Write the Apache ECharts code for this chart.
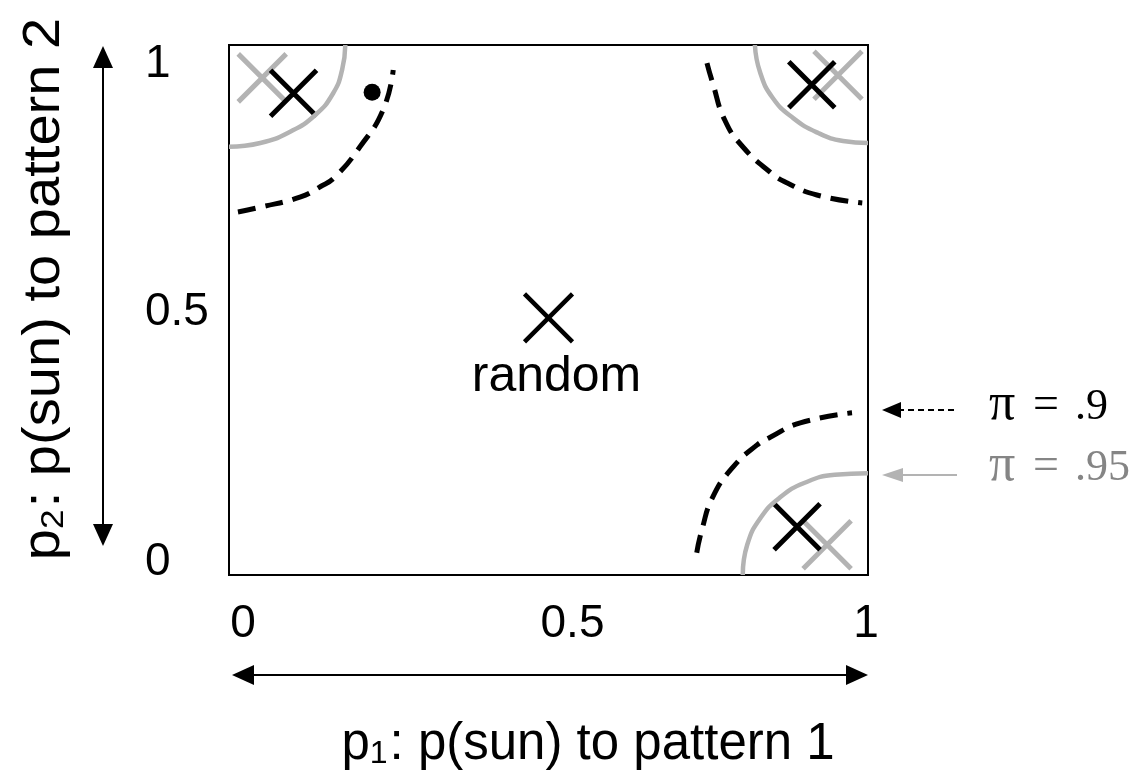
<!DOCTYPE html>
<html>
<head>
<meta charset="UTF-8">
<title>p1 / p2 sun probability space</title>
<style>
  html, body { margin: 0; padding: 0; background: #fff; }
  #chart { width: 1144px; height: 770px; }
</style>
<script src="https://cdn.jsdelivr.net/npm/echarts@6/dist/echarts.min.js"></script>
</head>
<body>
<div id="chart"></div>
<script>
// tick labels
var xTickLabels = ['0', '0.5', '1'];
var yTickLabels = ['0', '0.5', '1'];

// solid grey arcs (pi = .95)
var arcTopLeft = [[0, 0.808], [0.049, 0.815], [0.095, 0.836], [0.135, 0.868], [0.163, 0.909], [0.177, 0.953], [0.182, 1.0]];
var arcTopRight = [[0.823, 1.0], [0.831, 0.949], [0.851, 0.900], [0.883, 0.862], [0.922, 0.834], [0.961, 0.819], [1.0, 0.815]];
var arcBottomRight = [[0.804, 0], [0.811, 0.057], [0.832, 0.108], [0.863, 0.147], [0.901, 0.174], [0.948, 0.189], [1.0, 0.192]];

// dashed black curves (pi = .9)
var dashTopLeft = [[0.014, 0.685], [0.049, 0.694], [0.111, 0.713], [0.142, 0.732], [0.166, 0.751], [0.205, 0.808], [0.241, 0.877], [0.257, 0.953]];
var dashTopRight = [[0.748, 0.966], [0.757, 0.928], [0.776, 0.858], [0.804, 0.808], [0.847, 0.760], [0.873, 0.740], [0.920, 0.717], [0.991, 0.702]];
var dashBottomRight = [[0.732, 0.042], [0.740, 0.085], [0.757, 0.147], [0.789, 0.204], [0.826, 0.245], [0.847, 0.260], [0.894, 0.287], [0.975, 0.306]];

// markers
var blackCrosses = [[0.101, 0.909], [0.912, 0.925], [0.889, 0.091]];
var greyCrosses = [[0.052, 0.938], [0.953, 0.943], [0.936, 0.057]];
var randomPoint = [[0.500, 0.485]];
var dotPoint = [[0.224, 0.911]];

var crossPath = 'path://M0,0L10,10M10,0L0,10';
var font = 'Liberation Sans';
var serif = 'Liberation Serif';

var myChart = echarts.init(document.getElementById('chart'));

function arcSeries(d) {
  return {
    type: 'line', data: d, smooth: true, symbol: 'none', silent: true,
    lineStyle: { color: '#b3b3b3', width: 4.5 }
  };
}
function dashSeries(d) {
  return {
    type: 'line', data: d, smooth: true, symbol: 'none', silent: true,
    lineStyle: { color: '#000', width: 5, type: [18, 10] }
  };
}
function tickRich(pads) {
  var r = {};
  pads.forEach(function (p, i) { r['t' + i] = { fontSize: 46, fontFamily: font, color: '#000', padding: p }; });
  return r;
}

var option = {
  animation: false,
  backgroundColor: '#fff',
  grid: {
    left: 229, top: 45, width: 639, height: 530,
    show: true, borderColor: '#000', borderWidth: 2, backgroundColor: 'transparent'
  },
  xAxis: {
    type: 'value', min: 0, max: 1, interval: 0.5,
    axisLine: { show: false }, axisTick: { show: false }, splitLine: { show: false },
    axisLabel: {
      margin: 26, color: '#000', fontFamily: font, fontSize: 46,
      formatter: function (v, i) { return '{t' + i + '|' + xTickLabels[i] + '}'; },
      rich: tickRich([[0, 0, 0, 28], [0, 0, 0, 48], [0, 4, 0, 0]])
    }
  },
  yAxis: {
    type: 'value', min: 0, max: 1, interval: 0.5,
    axisLine: { show: false }, axisTick: { show: false }, splitLine: { show: false },
    axisLabel: {
      margin: 84, align: 'left', color: '#000', fontFamily: font, fontSize: 46,
      formatter: function (v, i) { return '{t' + i + '|' + yTickLabels[i] + '}'; },
      rich: tickRich([[0, 0, 26, 0], [4, 0, 0, 0], [38, 0, 0, 0]])
    }
  },
  series: [
    arcSeries(arcTopLeft),
    arcSeries(arcTopRight),
    arcSeries(arcBottomRight),
    dashSeries(dashTopLeft),
    dashSeries(dashTopRight),
    dashSeries(dashBottomRight),
    {
      type: 'scatter', data: greyCrosses, symbol: crossPath, symbolSize: 48,
      itemStyle: { color: '#b3b3b3', borderColor: '#b3b3b3', borderWidth: 5, opacity: 1 }
    },
    {
      type: 'scatter', data: blackCrosses, symbol: crossPath, symbolSize: 46,
      itemStyle: { color: '#000', borderColor: '#000', borderWidth: 5, opacity: 1 }
    },
    {
      type: 'scatter', data: randomPoint, symbol: crossPath, symbolSize: 48,
      itemStyle: { color: '#000', borderColor: '#000', borderWidth: 4.5, opacity: 1 },
      label: {
        show: true, position: 'bottom', distance: 8, offset: [8, 0],
        formatter: 'random', color: '#000', fontFamily: font, fontSize: 50
      }
    },
    {
      type: 'scatter', data: dotPoint, symbol: 'circle', symbolSize: 17,
      itemStyle: { color: '#000', opacity: 1 }
    }
  ],
  graphic: [
    // y title
    {
      type: 'text', x: 45, y: 289, rotation: Math.PI / 2, scaleX: 1.1,
      style: {
        text: '{m|p}{s|2}{m|: p(sun) to pattern 2}',
        align: 'center', verticalAlign: 'middle', fill: '#000',
        rich: {
          m: { fontSize: 51, fontFamily: font, fill: '#000' },
          s: { fontSize: 32, fontFamily: font, fill: '#000', verticalAlign: 'bottom', padding: [0, 2, 0, 0] }
        }
      }
    },
    // x title
    {
      type: 'text', x: 588, y: 745,
      style: {
        text: '{m|p}{s|1}{m|: p(sun) to pattern 1}',
        align: 'center', verticalAlign: 'middle', fill: '#000',
        rich: {
          m: { fontSize: 51, fontFamily: font, fill: '#000' },
          s: { fontSize: 32, fontFamily: font, fill: '#000', verticalAlign: 'bottom', padding: [0, 2, 0, 0] }
        }
      }
    },
    // vertical double arrow
    { type: 'line', shape: { x1: 103, y1: 62, x2: 103, y2: 530 }, style: { stroke: '#000', lineWidth: 2 } },
    { type: 'polygon', shape: { points: [[103, 46], [93, 68], [113, 68]] }, style: { fill: '#000' } },
    { type: 'polygon', shape: { points: [[103, 546], [93, 524], [113, 524]] }, style: { fill: '#000' } },
    // horizontal double arrow
    { type: 'line', shape: { x1: 248, y1: 675, x2: 852, y2: 675 }, style: { stroke: '#000', lineWidth: 2 } },
    { type: 'polygon', shape: { points: [[232, 675], [254, 665], [254, 685]] }, style: { fill: '#000' } },
    { type: 'polygon', shape: { points: [[868, 675], [846, 665], [846, 685]] }, style: { fill: '#000' } },
    // pi = .9 key
    { type: 'line', shape: { x1: 898, y1: 410, x2: 955, y2: 410 }, style: { stroke: '#000', lineWidth: 2, lineDash: [6, 4] } },
    { type: 'polygon', shape: { points: [[882, 410], [901, 402], [901, 418]] }, style: { fill: '#000' } },
    { type: 'text', x: 989, y: 405, style: { text: 'π', fontSize: 52, fontFamily: serif, fill: '#000', align: 'left', verticalAlign: 'middle' } },
    { type: 'text', x: 1033, y: 406, style: { text: '=', fontSize: 46, fontFamily: serif, fill: '#000', align: 'left', verticalAlign: 'middle' } },
    { type: 'text', x: 1075, y: 407, style: { text: '.9', fontSize: 44, fontFamily: serif, fill: '#000', align: 'left', verticalAlign: 'middle' } },
    // pi = .95 key
    { type: 'line', shape: { x1: 898, y1: 475, x2: 957, y2: 475 }, style: { stroke: '#b3b3b3', lineWidth: 2 } },
    { type: 'polygon', shape: { points: [[882, 475], [903, 468], [903, 482]] }, style: { fill: '#b3b3b3' } },
    { type: 'text', x: 989, y: 466, style: { text: 'π', fontSize: 52, fontFamily: serif, fill: '#858585', align: 'left', verticalAlign: 'middle' } },
    { type: 'text', x: 1033, y: 467, style: { text: '=', fontSize: 46, fontFamily: serif, fill: '#858585', align: 'left', verticalAlign: 'middle' } },
    { type: 'text', x: 1075, y: 468, style: { text: '.95', fontSize: 44, fontFamily: serif, fill: '#858585', align: 'left', verticalAlign: 'middle' } }
  ]
};

myChart.setOption(option);
</script>
</body>
</html>
